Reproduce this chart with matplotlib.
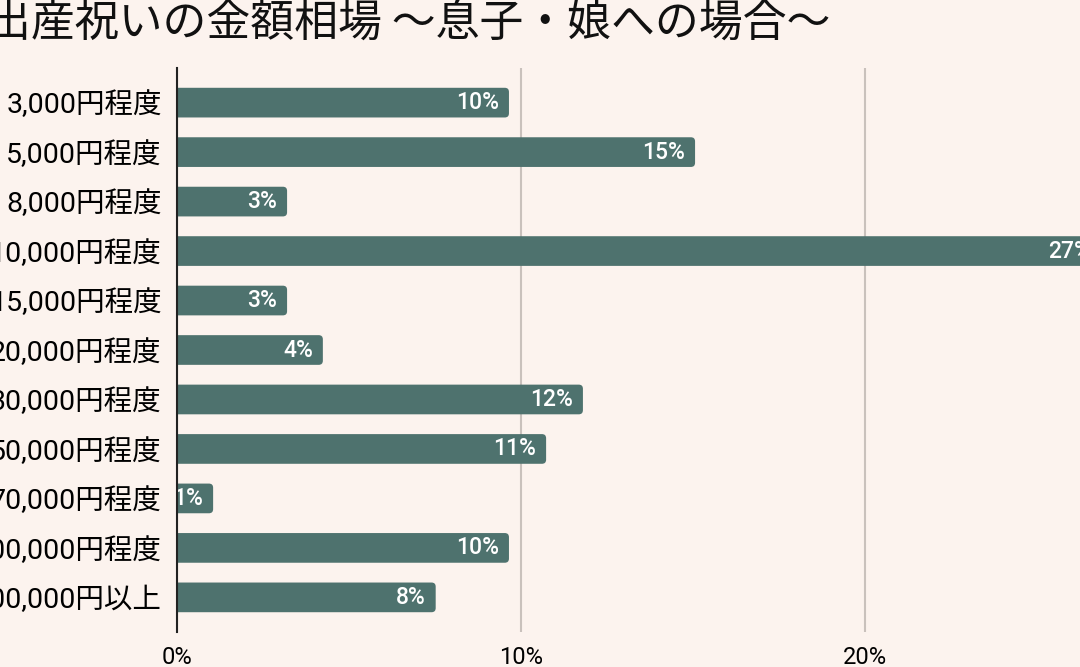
import matplotlib.pyplot as plt
from matplotlib.patches import FancyBboxPatch
from matplotlib.ticker import FuncFormatter

plt.rcParams['font.family'] = ['Roboto', 'Noto Sans CJK JP', 'DejaVu Sans']

title = '出産祝いの金額相場 〜息子・娘への場合〜'
amounts = ['3,000円程度', '5,000円程度', '8,000円程度', '10,000円程度', '15,000円程度',
           '20,000円程度', '30,000円程度', '50,000円程度', '70,000円程度',
           '100,000円程度', '100,000円以上']
shares = [9.65, 15.06, 3.2, 26.85, 3.2, 4.24, 11.8, 10.73, 1.05, 9.65, 7.52]

bg = '#fcf3ee'
bar_color = '#4e726e'

fig = plt.figure(figsize=(10.8, 6.67), dpi=100, facecolor=bg)
# the view is cropped: the axes run past the right edge of the picture
ax = fig.add_axes([177 / 1080, 35 / 667, 1032 / 1080, 564 / 667], facecolor=bg)

bars = ax.barh(range(len(amounts)), shares, height=0.6, color=bar_color)
ax.set_xlim(0, 30)
ax.set_ylim(len(amounts) - 0.3, -0.7)

# swap plain rectangles for slightly rounded ones
for b in bars:
    x, y, w, h = b.get_x(), b.get_y(), b.get_width(), b.get_height()
    r = 0.12
    box = FancyBboxPatch((x - r, y), w + r, h,
                         boxstyle=f'round,pad=0,rounding_size={r}',
                         mutation_aspect=0.7, facecolor=bar_color,
                         edgecolor='none', zorder=2)
    ax.add_patch(box)
    b.remove()

for i, v in enumerate(shares):
    ax.text(v - 0.28, i, f'{v:.0f}%', ha='right', va='center',
            color='white', fontsize=16.5, fontweight='medium', zorder=3)

ax.set_yticks(range(len(amounts)))
ax.set_yticklabels(amounts, fontsize=20.5)
ax.set_xticks([0, 10, 20])
ax.xaxis.set_major_formatter(FuncFormatter(lambda v, p: f'{v:.0f}%'))
ax.tick_params(axis='x', length=0, pad=10, labelsize=17)
ax.tick_params(axis='y', length=0, pad=11)

ax.grid(axis='x', color='#c9c1bc', linewidth=1.5, zorder=0)
ax.axvline(30, color='#c9c1bc', linewidth=1.5, zorder=0)
ax.set_axisbelow(True)
for s in ['top', 'right', 'bottom']:
    ax.spines[s].set_visible(False)
ax.spines['left'].set_color('#222222')
ax.spines['left'].set_linewidth(1.5)
ax.spines['left'].set_zorder(4)

fig.text(-13 / 1080, 1 - 36 / 667, title, fontsize=31.6, va='baseline', ha='left',
         family=['Noto Sans CJK JP', 'DejaVu Sans'], color='#111111')

fig.savefig('out.png', dpi=100, facecolor=bg)
